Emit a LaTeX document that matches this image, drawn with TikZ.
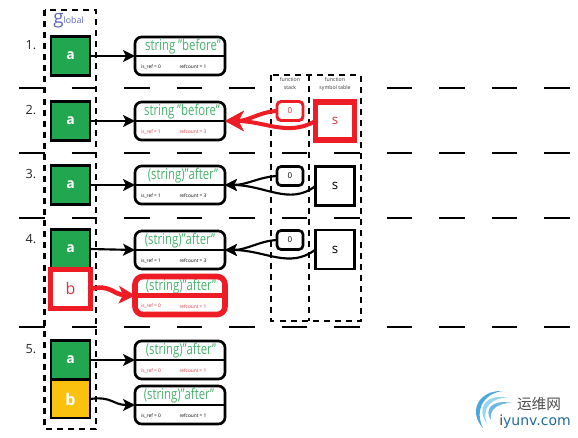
\documentclass[tikz,border=0pt]{standalone}
\usepackage{fontspec}
\setmainfont{Open Sans}
\newfontfamily\cjkwm{Noto Sans CJK SC}
\newfontfamily\latwm{DejaVu Sans}
\usetikzlibrary{arrows.meta}
\definecolor{gbox}{HTML}{22A650}
\definecolor{ybox}{HTML}{FBC10F}
\definecolor{gtext}{HTML}{46B36B}
\definecolor{rline}{HTML}{EE1C25}
\definecolor{rtext}{HTML}{D8343C}
\definecolor{bluelab}{HTML}{5A66BE}
\definecolor{wmblue}{HTML}{2B98D8}
\definecolor{wmlight}{HTML}{9AD3EE}
\tikzset{
  sz/.style 2 args={minimum width=#1*0.75pt,minimum height=#2*0.75pt},
  nd/.style={inner sep=0pt,outer sep=0pt},
  gl/.style={nd,draw=black,line width=1.9pt,text=white,font=\fontsize{10.5}{12}\selectfont\bfseries},
  strb/.style={nd,draw=black,line width=2pt,rounded corners=5pt,sz={90}{38}},
  strr/.style={nd,draw=rline,line width=4.2pt,rounded corners=6pt,sz={90}{38}},
  title/.style={nd,text=gtext,font=\fontsize{11.2}{12}\selectfont},
  small/.style={nd,font=\fontsize{3.6}{4}\selectfont},
  stepnum/.style={nd,font=\fontsize{9.5}{11}\selectfont,text=black!85},
  zero/.style={nd,draw=black,line width=2pt,rounded corners=3pt,sz={26}{19},font=\fontsize{6}{7}\selectfont},
  sym/.style={nd,draw=black,line width=2pt,fill=white,sz={39}{39},font=\fontsize{10}{12}\selectfont},
  arr/.style={draw=black,line width=1.6pt,-{Stealth[length=9pt,width=9pt,inset=2.2pt]}},
  rarr/.style={draw=rline,line width=3pt,-{Stealth[length=14pt,width=15pt,inset=4pt]}},
  rule/.style={draw=black,line width=2.2pt},
  frame/.style={draw=black,line width=2.2pt,dash pattern=on 4.5pt off 3.8pt},
  fnlab/.style={nd,align=center,font=\fontsize{3.9}{6}\selectfont,text=black!80},
}
% name, cx, top y, box style, title x, title, text colour, is_ref, refcount
\newcommand{\strbox}[9]{%
  \node[title] (#1t) at (#5,#3+10) {\scalebox{.76}[1]{#6}};
  \fill[white] (#2-42,#3+19) rectangle (#2+42,#3+36);
  \node[#4] (#1) at (#2,#3+19) {};
  \draw[#4,rounded corners=0pt] (#1.west) -- (#1.east);
  \node[small,text=#7] (#1r) at (#2-29,#3+30) {is\_ref = #8};
  \node[small,text=#7] (#1c) at (#2+13,#3+30) {refcount = #9};
}
\begin{document}
\begin{tikzpicture}[x=0.75pt,y=-0.75pt]
\useasboundingbox (0,0) rectangle (578,438);
% separators
\foreach \yy in {153,218,327}{
  \foreach \xx in {19,71.5,124,176.5,229,281.5,334,386.5,439,491.5,544}{
    \draw[rule] (\xx,\yy) -- ++(25.5,0);
  }
}
\foreach \xx in {19,71.5,124,176.5,229,386.5,439,491.5,544}{
  \draw[rule] (\xx,88) -- ++(25.5,0);
}
% frames
\draw[frame] (44.5,10) rectangle (96,429);
\draw[frame] (271,75) rectangle (361,321);
\draw[frame] (309,75) -- (309,321);
% labels
\node[nd,text=bluelab] (glob) at (68.5,21) {{\fontsize{14}{14}\selectfont g}{\fontsize{6.6}{8}\selectfont lobal}};
\node[stepnum] (n1) at (31,45) {1.};
\node[stepnum] (n2) at (31,110) {2.};
\node[stepnum] (n3) at (31,174) {3.};
\node[stepnum] (n4) at (31,239) {4.};
\node[stepnum] (n5) at (31,349) {5.};
\node[fnlab] (fs) at (290,84) {function\\stack};
\node[fnlab] (fy) at (335,84) {function\\symbol table};
% strings
\strbox{s1}{180}{37}{strb}{183}{string "before"}{black}{0}{1}
\strbox{s2}{180}{102}{strb}{182}{string "before"}{rtext}{1}{3}
\strbox{s3}{180}{166}{strb}{183}{(string)"after"}{black}{1}{3}
\strbox{s4}{180}{231}{strb}{180}{(string)"after"}{black}{1}{3}
\strbox{s5}{180}{276.5}{strr}{181}{(string)"after"}{rtext}{0}{1}
\strbox{s6}{180}{341}{strb}{181}{(string)"after"}{rtext}{0}{1}
\strbox{s7}{180}{386}{strb}{179}{(string)"after"}{black}{0}{1}
% globals
\node[gl,fill=gbox,sz={39}{39}] (a1) at (70.5,56) {a};
\node[gl,fill=gbox,sz={39}{39}] (a2) at (70.5,121) {a};
\node[gl,fill=gbox,sz={39}{39}] (a3) at (70.5,185) {a};
\node[gl,fill=gbox,sz={39}{39}] (a4) at (70.5,249) {a};
\node[nd,draw=rline,line width=3.6pt,fill=white,text=rtext,sz={40}{39},font=\fontsize{12}{14}\selectfont] (b4) at (70.5,289) {b};
\node[gl,fill=gbox,sz={39}{39}] (a5) at (70.5,360) {a};
\node[gl,fill=ybox,sz={39}{38},font=\fontsize{12}{14}\selectfont\bfseries] (b5) at (70.5,399) {b};
% function stack and symbols
\node[zero,draw=rline,line width=2.2pt,text=rtext] (z2) at (290,111) {0};
\node[zero] (z3) at (290,176) {0};
\node[zero] (z4) at (290,240) {0};
\node[sym,draw=rline,line width=4pt,text=rtext,sz={39}{38}] (y2) at (335,121) {s};
\node[sym] (y3) at (335,186) {s};
\node[sym] (y4) at (335,249.5) {s};
% connectors
\draw[arr] (a1.east) -- (s1.west);
\draw[arr] (a2.east) -- (s2.west);
\draw[arr] (a3.east) -- (s3.west);
\draw[arr] (a4.east) -- (s4.west);
\draw[arr] (a5.east) -- (s6.west);
\draw[arr] (b5.east) .. controls +(22,-3) and +(-22,0) .. (s7.west);
\draw[draw=rline,line width=3.4pt,-{Stealth[length=12pt,width=13pt,inset=3pt]}] (b4.east) .. controls +(20,-5) and +(-22,-1) .. (s5.west);
\draw[rarr] (z2.west) .. controls +(-18,1) and +(24,0) .. (s2.east);
\draw[rarr] (y2.west) .. controls +(-28,16) and +(40,0) .. (s2.east);
\draw[arr] (z3.west) .. controls +(-18,1) and +(22,0) .. (s3.east);
\draw[arr] (y3.west) .. controls +(-26,20) and +(40,0) .. (s3.east);
\draw[arr] (z4.west) .. controls +(-18,1) and +(22,0) .. (s4.east);
\draw[arr] (y4.west) .. controls +(-26,20) and +(40,0) .. (s4.east);
% watermark
\fill[wmblue!85!white] (483,428) .. controls (468,412) and (478,390) .. (503,391)
   .. controls (484,393) and (474,410) .. (483,428) -- cycle;
\fill[wmlight] (487,424) .. controls (476,408) and (485,393) .. (509,398)
   .. controls (491,397) and (481,408) .. (487,424) -- cycle;
\fill[wmblue!70!white] (491,420) .. controls (484,410) and (491,399) .. (512,403)
   .. controls (497,403) and (489,410) .. (491,420) -- cycle;
\node[nd,text=black!70,font=\cjkwm\fontsize{11}{13}\selectfont] (wm1) at (539,404) {运维网};
\node[nd,font=\latwm\fontsize{10.5}{12}\selectfont,text=wmblue!70!black] (wm2) at (535,422) {{\color{black!75}i}yunv.com};
\end{tikzpicture}
\end{document}
